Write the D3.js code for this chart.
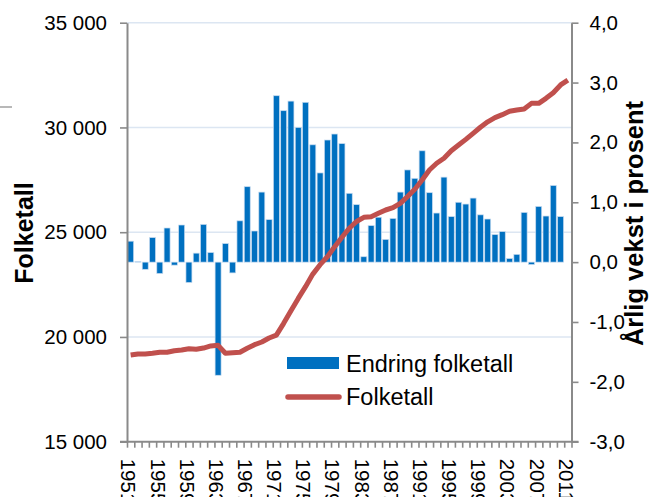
<!DOCTYPE html>
<html>
<head>
<meta charset="utf-8">
<script src="https://cdn.jsdelivr.net/npm/d3@7"></script>
<style>
  html, body { margin: 0; padding: 0; background: #fff; }
  svg { display: block; font-family: "Liberation Sans", Arial, sans-serif; }
</style>
</head>
<body>
<svg id="chart" width="653" height="497"></svg>
<script>
const years = d3.range(1951, 2012);
const growth = [0.35, 0.01, -0.12, 0.41, -0.19, 0.57, -0.05, 0.62, -0.34, 0.15,
  0.63, 0.16, -1.89, 0.31, -0.18, 0.69, 1.26, 0.52, 1.17, 0.71,
  2.78, 2.53, 2.69, 2.25, 2.67, 1.96, 1.49, 2.04, 2.14, 1.98,
  1.15, 0.96, 0.09, 0.61, 0.75, 0.38, 0.73, 1.17, 1.54, 1.40,
  1.86, 1.16, 0.82, 1.42, 0.76, 1.00, 0.97, 1.07, 0.79, 0.72,
  0.46, 0.51, 0.06, 0.13, 0.83, -0.04, 0.93, 0.77, 1.28, 0.76, null];
const population = [19140, 19190, 19190, 19220, 19270, 19270, 19340, 19380, 19440, 19410,
  19470, 19570, 19600, 19220, 19250, 19270, 19460, 19630, 19760, 19950,
  20090, 20650, 21250, 21840, 22400, 23000, 23450, 23830, 24310, 24760,
  25190, 25510, 25710, 25740, 25900, 26060, 26170, 26380, 26700, 27050,
  27490, 27970, 28290, 28530, 28890, 29160, 29430, 29720, 30010, 30270,
  30470, 30610, 30770, 30830, 30880, 31150, 31150, 31390, 31660, 32030, 32260];
const leftTicks = [15000, 20000, 25000, 30000, 35000];
const rightTicks = [-3, -2, -1, 0, 1, 2, 3, 4];
const labelYears = d3.range(1951, 2012, 4);
const seriesNames = ["Endring folketall", "Folketall"];
const leftTitle = "Folketall";
const rightTitle = "Årlig vekst i prosent";

const loc = d3.formatLocale({decimal: ",", thousands: "\u00a0", grouping: [3], currency: ["", ""], minus: "-"});
const fmtLeft = loc.format(",.0f");
const fmtRight = loc.format(".1f");

const svg = d3.select("#chart");
const X0 = 127, X1 = 571.5, YT = 22.7, YB = 441.7;
const axisColor = "#8a8a8a";

const x = d3.scaleBand().domain(years).range([X0, X1]).paddingInner(0.18).paddingOuter(0.09);
const xEdge = d3.scaleLinear().domain([1950.5, 2011.5]).range([X0, X1]);
const yL = d3.scaleLinear().domain([15000, 35000]).range([YB, YT]);
const yR = d3.scaleLinear().domain([-3, 4]).range([YB, YT]);

// stray mark at left edge
svg.append("line").attr("x1", 0).attr("x2", 12).attr("y1", 107).attr("y2", 107)
  .attr("stroke", "#a0a0a0").attr("stroke-width", 1.5);

// gridlines
svg.append("g").selectAll("line").data(leftTicks.filter(d => d > 15000)).join("line")
  .attr("x1", X0).attr("x2", X1).attr("y1", d => yL(d)).attr("y2", d => yL(d))
  .attr("stroke", "#dce6f2").attr("stroke-width", 1.6);

// bars
svg.append("g").selectAll("rect").data(years.map((yr, i) => ({yr, v: growth[i]})).filter(d => d.v !== null))
  .join("rect")
  .attr("x", d => x(d.yr)).attr("width", x.bandwidth())
  .attr("y", d => yR(Math.max(0, d.v))).attr("height", d => Math.abs(yR(d.v) - yR(0)))
  .attr("fill", "#0070C0").attr("stroke", "#c6dbf0").attr("stroke-width", 0.7);

// line
const line = d3.line().x((d, i) => x(years[i]) + x.bandwidth() / 2).y(d => yL(d));
svg.append("path").datum(population).attr("d", line)
  .attr("fill", "none").attr("stroke", "#C0504D").attr("stroke-width", 5)
  .attr("stroke-linejoin", "round").attr("stroke-linecap", "butt");

function styleAxis(g) {
  g.selectAll(".domain").attr("stroke", axisColor).attr("stroke-width", 2);
  g.selectAll(".tick line").attr("stroke", axisColor).attr("stroke-width", 1.6);
  g.selectAll("text").attr("fill", "#000").style("font-size", "20.5px")
    .style("font-family", "'Liberation Sans', Arial, sans-serif");
}

// left axis
svg.append("g").attr("transform", `translate(${X0},0)`)
  .call(d3.axisLeft(yL).tickValues(leftTicks).tickFormat(fmtLeft).tickSize(7).tickSizeOuter(0).tickPadding(13))
  .call(styleAxis);

// right axis
svg.append("g").attr("transform", `translate(${X1},0)`)
  .call(d3.axisRight(yR).tickValues(rightTicks).tickFormat(fmtRight).tickSize(7).tickSizeOuter(0).tickPadding(11))
  .call(styleAxis);

// bottom axis ticks
svg.append("g").attr("transform", `translate(0,${YB})`)
  .call(d3.axisBottom(xEdge).tickValues(d3.range(1950.5, 2012, 1)).tickFormat("").tickSize(6).tickSizeOuter(0))
  .call(styleAxis)
  .call(g => g.select(".domain").attr("d", `M${X0 - 7},0H${X1 + 7}`));

// bottom labels
const lab = svg.append("g").attr("transform", `translate(0,${YB})`)
  .call(d3.axisBottom(x).tickValues(labelYears).tickSize(0).tickSizeOuter(0))
  .call(styleAxis);
lab.select(".domain").remove();
lab.selectAll(".tick text")
  .attr("transform", "translate(-2,17) rotate(90)")
  .attr("x", 0).attr("y", 0).attr("dy", "0.35em")
  .attr("text-anchor", "start");

// axis titles
svg.append("text").attr("transform", `translate(33,233) rotate(-90)`)
  .attr("text-anchor", "middle").style("font-size", "25px").style("font-weight", "bold")
  .text(leftTitle);
svg.append("text").attr("transform", `translate(643,223.5) rotate(-90)`)
  .attr("text-anchor", "middle").style("font-size", "25.5px").style("font-weight", "bold")
  .text(rightTitle);

// legend
const lg = svg.append("g");
lg.append("rect").attr("x", 287).attr("y", 357).attr("width", 52).attr("height", 12).attr("fill", "#0070C0");
lg.append("text").attr("x", 346).attr("y", 372).style("font-size", "23.5px").text(seriesNames[0]);
lg.append("line").attr("x1", 288).attr("x2", 339).attr("y1", 397).attr("y2", 397)
  .attr("stroke", "#C0504D").attr("stroke-width", 5.5).attr("stroke-linecap", "round");
lg.append("text").attr("x", 346).attr("y", 405).style("font-size", "23.5px").text(seriesNames[1]);
</script>
</body>
</html>
